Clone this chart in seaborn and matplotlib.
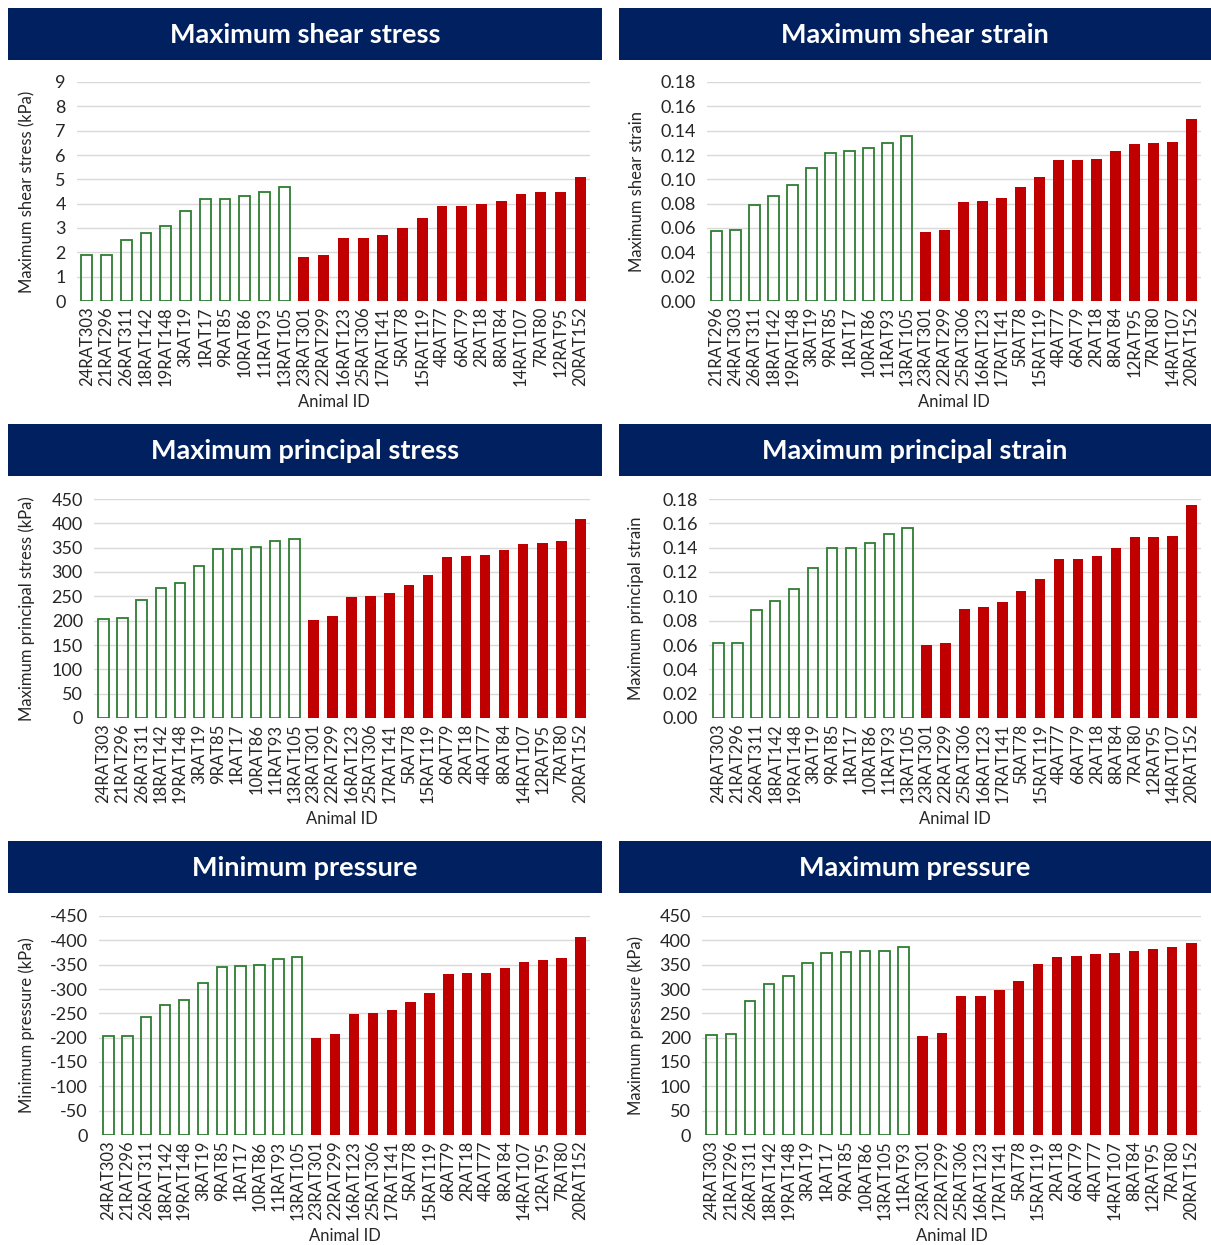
import matplotlib
matplotlib.use("Agg")
import matplotlib.pyplot as plt
from matplotlib.patches import Rectangle
from matplotlib.ticker import FormatStrFormatter, MultipleLocator
import seaborn as sns
import pandas as pd

# ---------------- data ----------------
GROUPS = ["Control"] * 11 + ["Injured"] * 15

ids_shear_stress = ["24RAT303", "21RAT296", "26RAT311", "18RAT142", "19RAT148", "3RAT19", "1RAT17",
                    "9RAT85", "10RAT86", "11RAT93", "13RAT105", "23RAT301", "22RAT299", "16RAT123",
                    "25RAT306", "17RAT141", "5RAT78", "15RAT119", "4RAT77", "6RAT79", "2RAT18",
                    "8RAT84", "14RAT107", "7RAT80", "12RAT95", "20RAT152"]
vals_shear_stress = [1.9, 1.9, 2.5, 2.8, 3.1, 3.7, 4.2, 4.2, 4.3, 4.5, 4.7,
                     1.8, 1.9, 2.6, 2.6, 2.7, 3.0, 3.4, 3.9, 3.9, 4.0, 4.1, 4.4, 4.5, 4.5, 5.1]

ids_shear_strain = ["21RAT296", "24RAT303", "26RAT311", "18RAT142", "19RAT148", "3RAT19", "9RAT85",
                    "1RAT17", "10RAT86", "11RAT93", "13RAT105", "23RAT301", "22RAT299", "25RAT306",
                    "16RAT123", "17RAT141", "5RAT78", "15RAT119", "4RAT77", "6RAT79", "2RAT18",
                    "8RAT84", "12RAT95", "7RAT80", "14RAT107", "20RAT152"]
vals_shear_strain = [0.0577, 0.058, 0.079, 0.086, 0.095, 0.109, 0.122, 0.123, 0.126, 0.130, 0.136,
                     0.057, 0.058, 0.081, 0.082, 0.085, 0.094, 0.102, 0.116, 0.116, 0.117, 0.123,
                     0.129, 0.130, 0.131, 0.150]

ids_princ_stress = ["24RAT303", "21RAT296", "26RAT311", "18RAT142", "19RAT148", "3RAT19", "9RAT85",
                    "1RAT17", "10RAT86", "11RAT93", "13RAT105", "23RAT301", "22RAT299", "16RAT123",
                    "25RAT306", "17RAT141", "5RAT78", "15RAT119", "6RAT79", "2RAT18", "4RAT77",
                    "8RAT84", "14RAT107", "12RAT95", "7RAT80", "20RAT152"]
vals_princ_stress = [204, 206, 243, 268, 277, 313, 347, 348, 351, 364, 367,
                     201, 210, 249, 251, 257, 274, 293, 331, 333, 335, 346, 357, 360, 364, 408]

ids_princ_strain = ["24RAT303", "21RAT296", "26RAT311", "18RAT142", "19RAT148", "3RAT19", "9RAT85",
                    "1RAT17", "10RAT86", "11RAT93", "13RAT105", "23RAT301", "22RAT299", "25RAT306",
                    "16RAT123", "17RAT141", "5RAT78", "15RAT119", "4RAT77", "6RAT79", "2RAT18",
                    "8RAT84", "7RAT80", "12RAT95", "14RAT107", "20RAT152"]
vals_princ_strain = [0.062, 0.062, 0.089, 0.096, 0.106, 0.123, 0.140, 0.140, 0.144, 0.151, 0.156,
                     0.060, 0.062, 0.090, 0.091, 0.095, 0.104, 0.114, 0.131, 0.131, 0.133, 0.140,
                     0.149, 0.149, 0.150, 0.175]

ids_min_press = ["24RAT303", "21RAT296", "26RAT311", "18RAT142", "19RAT148", "3RAT19", "9RAT85",
                 "1RAT17", "10RAT86", "11RAT93", "13RAT105", "23RAT301", "22RAT299", "16RAT123",
                 "25RAT306", "17RAT141", "5RAT78", "15RAT119", "6RAT79", "2RAT18", "4RAT77",
                 "8RAT84", "14RAT107", "12RAT95", "7RAT80", "20RAT152"]
vals_min_press = [-203, -204, -243, -268, -277, -312, -346, -348, -350, -362, -366,
                  -200, -208, -249, -251, -257, -273, -292, -330, -332, -333, -344, -355, -359, -363, -407]

ids_max_press = ["24RAT303", "21RAT296", "26RAT311", "18RAT142", "19RAT148", "3RAT19", "1RAT17",
                 "9RAT85", "10RAT86", "13RAT105", "11RAT93", "23RAT301", "22RAT299", "25RAT306",
                 "16RAT123", "17RAT141", "5RAT78", "15RAT119", "2RAT18", "6RAT79", "4RAT77",
                 "14RAT107", "8RAT84", "12RAT95", "7RAT80", "20RAT152"]
vals_max_press = [206, 207, 276, 310, 327, 353, 374, 376, 378, 379, 387,
                  203, 210, 286, 286, 298, 316, 352, 366, 368, 372, 374, 379, 382, 387, 395]

titles = ["Maximum shear stress", "Maximum shear strain", "Maximum principal stress",
          "Maximum principal strain", "Minimum pressure", "Maximum pressure"]
ylabels = ["Maximum shear stress (kPa)", "Maximum shear strain", "Maximum principal stress (kPa)",
           "Maximum principal strain", "Minimum pressure (kPa)", "Maximum pressure (kPa)"]

# ---------------- style ----------------
sns.set_theme(style="white")
plt.rcParams["font.family"] = ["Lato", "DejaVu Sans"]
plt.rcParams["axes.unicode_minus"] = False

W, H = 1211, 1245
NAVY = "#002060"
GREEN = "#2E7D32"
RED = "#C00000"
TXT = "#262626"
GRID = "#D9D9D9"

fig = plt.figure(figsize=(W / 100, H / 100), dpi=100)
fig.patch.set_facecolor("white")

def fx(px):
    return px / W

def fy(py):
    return 1 - py / H

# axes pixel boxes: left, right, top, bottom
boxes = [(77, 590, 82, 301), (707, 1201, 82, 301),
         (94, 590, 499, 718), (709, 1201, 499, 718),
         (99, 590, 916, 1135), (702, 1201, 916, 1135)]
banners = [(8, 602, 8, 60), (619, 1211, 8, 60),
           (8, 602, 424, 476), (619, 1211, 424, 476),
           (8, 602, 841, 893), (619, 1211, 841, 893)]
ylab_x = [27, 637, 27, 636, 27, 636]
xlab_y = [401, 401, 818, 818, 1235, 1235]

panels = [
    (ids_shear_stress, vals_shear_stress, (0, 9), 1, None),
    (ids_shear_strain, vals_shear_strain, (0, 0.18), 0.02, "%.2f"),
    (ids_princ_stress, vals_princ_stress, (0, 450), 50, None),
    (ids_princ_strain, vals_princ_strain, (0, 0.18), 0.02, "%.2f"),
    (ids_min_press, vals_min_press, (0, -450), 50, None),
    (ids_max_press, vals_max_press, (0, 450), 50, None),
]

for i, (ids, vals, ylim, step, fmt) in enumerate(panels):
    l, r, t, b = boxes[i]
    ax = fig.add_axes([fx(l), fy(b), fx(r - l), (b - t) / H])
    df = pd.DataFrame({"id": ids, "value": vals, "group": GROUPS})
    ctrl = df[df["group"] == "Control"]
    inj = df[df["group"] == "Injured"]
    sns.barplot(data=ctrl, x="id", y="value", order=ids, ax=ax, color=GREEN, fill=False,
                saturation=1, width=0.55, linewidth=1.3, errorbar=None)
    sns.barplot(data=inj, x="id", y="value", order=ids, ax=ax, color=RED,
                saturation=1, width=0.55, linewidth=0, errorbar=None)
    ax.set_ylim(*ylim)
    ax.set_xlim(-0.5, len(ids) - 0.5)
    ax.yaxis.set_major_locator(MultipleLocator(step))
    if fmt:
        ax.yaxis.set_major_formatter(FormatStrFormatter(fmt))
    ax.grid(axis="y", color=GRID, linewidth=1)
    ax.set_axisbelow(True)
    for s in ax.spines.values():
        s.set_visible(False)
    ax.tick_params(axis="y", labelsize=13, colors=TXT, length=0, pad=8)
    ax.tick_params(axis="x", labelsize=12, colors=TXT, length=0, pad=4, labelrotation=90)
    ax.set_xlabel("Animal ID", fontsize=12, color=TXT)
    ax.set_ylabel(ylabels[i], fontsize=12, color=TXT)
    ax.yaxis.set_label_coords(fx(ylab_x[i]), (fy(b) + fy(t)) / 2, transform=fig.transFigure)
    ax.xaxis.set_label_coords((fx(l) + fx(r)) / 2, fy(xlab_y[i] + 1), transform=fig.transFigure)
    ax.xaxis.label.set_va("center")
    ax.yaxis.label.set_va("center")

    bl, br, bt, bb = banners[i]
    fig.patches.append(Rectangle((fx(bl), fy(bb)), fx(br - bl), (bb - bt) / H,
                                 transform=fig.transFigure, facecolor=NAVY, edgecolor="none"))
    fig.text((fx(bl) + fx(br)) / 2, (fy(bt) + fy(bb)) / 2 - 0.0008, titles[i], color="white",
             fontsize=19.5, fontweight="bold", ha="center", va="center")

fig.savefig("out.png", dpi=100, facecolor="white")
